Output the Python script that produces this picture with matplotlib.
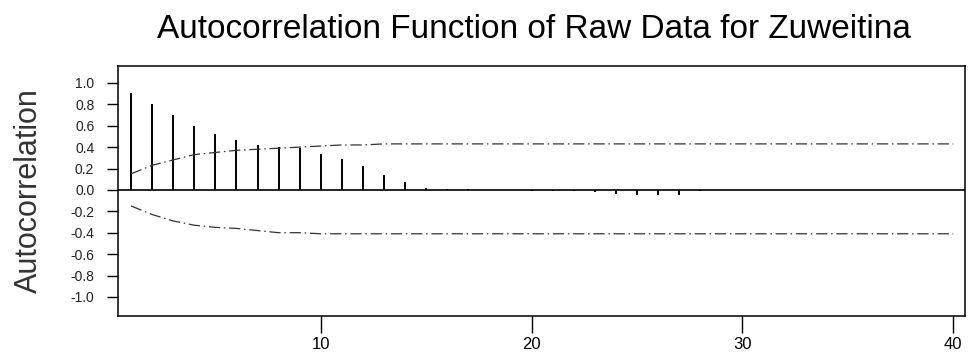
import matplotlib
matplotlib.use("Agg")
import matplotlib.pyplot as plt

plt.rcParams['font.family'] = ['Liberation Sans', 'DejaVu Sans']

lags = list(range(1, 41))
acf = [0.91, 0.80, 0.70, 0.60, 0.52, 0.47, 0.42, 0.40, 0.39, 0.34,
       0.29, 0.22, 0.14, 0.07, 0.02, 0.01, 0.01, 0.0, 0.0, -0.01,
       -0.01, -0.01, -0.02, -0.04, -0.05, -0.05, -0.05, -0.01, 0.0, 0.0,
       0.0, 0.0, 0.0, 0.0, 0.0, 0.0, 0.0, 0.0, 0.0, 0.0]
upper = [0.15, 0.23, 0.28, 0.33, 0.35, 0.37, 0.38, 0.39, 0.40, 0.41,
         0.42, 0.42, 0.43, 0.43, 0.43, 0.43, 0.43, 0.43, 0.43, 0.43,
         0.43, 0.43, 0.43, 0.43, 0.43, 0.43, 0.43, 0.43, 0.43, 0.43,
         0.43, 0.43, 0.43, 0.43, 0.43, 0.43, 0.43, 0.43, 0.43, 0.43]
lower = [-0.15, -0.23, -0.29, -0.33, -0.35, -0.36, -0.38, -0.40, -0.40, -0.41,
         -0.41, -0.41, -0.41, -0.41, -0.41, -0.41, -0.41, -0.41, -0.41, -0.41,
         -0.41, -0.41, -0.41, -0.41, -0.41, -0.41, -0.41, -0.41, -0.41, -0.41,
         -0.41, -0.41, -0.41, -0.41, -0.41, -0.41, -0.41, -0.41, -0.41, -0.41]
yticks = [1.0, 0.8, 0.6, 0.4, 0.2, 0.0, -0.2, -0.4, -0.6, -0.8, -1.0]
xticks = [10, 20, 30, 40]

fig = plt.figure(figsize=(9.75, 3.64), dpi=100)
ax = fig.add_axes([0.121, 0.132, 0.869, 0.687])

ax.vlines(lags, 0, acf, color='black', linewidth=1.4)
ax.axhline(0, color='black', linewidth=1.2)
dashdot = (0, (9, 3, 1.2, 3))
ax.plot(lags, upper, color='#333333', linewidth=0.9, linestyle=dashdot)
ax.plot(lags, lower, color='#333333', linewidth=0.9, linestyle=dashdot)

ax.set_xlim(0.38, 40.57)
ax.set_ylim(-1.178, 1.159)
ax.set_yticks(yticks)
ax.set_yticklabels(['%.1f' % v for v in yticks], fontsize=10, color='#222222')
ax.set_xticks(xticks)
ax.set_xticklabels([str(v) for v in xticks], fontsize=12)
ax.tick_params(axis='y', direction='out', length=8, width=1, pad=9)
ax.tick_params(axis='x', direction='out', length=12, width=1, pad=3)
for s in ax.spines.values():
    s.set_linewidth(1.1)

ax.set_ylabel('Autocorrelation', fontsize=22, color='#333333', labelpad=19)
fig.suptitle('Autocorrelation Function of Raw Data for Zuweitina', fontsize=24, x=0.548, y=0.961, va='top')

fig.savefig('out.png', dpi=100)
